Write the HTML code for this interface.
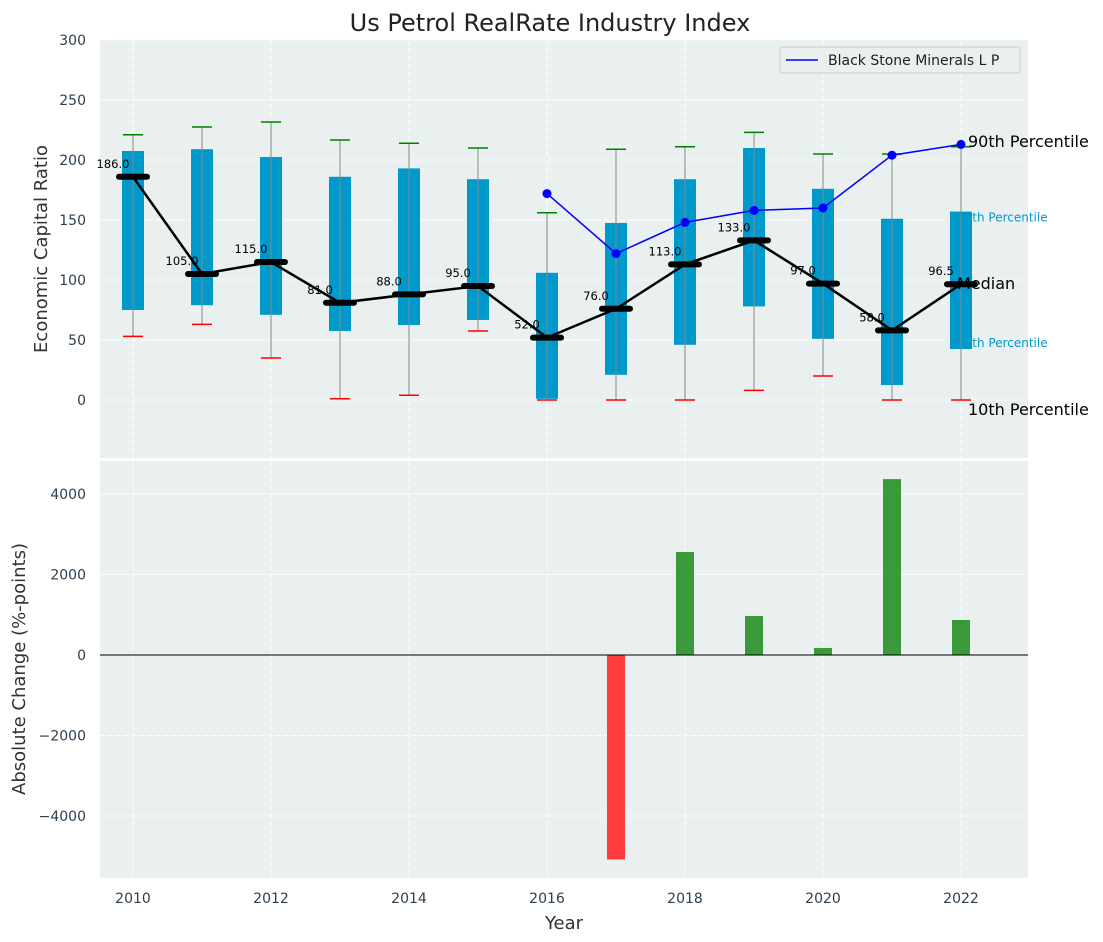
<!DOCTYPE html>
<html><head><meta charset="utf-8"><style>
body{margin:0;background:#fff;}
svg{display:block;font-family:"DejaVu Sans","Liberation Sans",sans-serif;}
</style></head><body>
<svg id="chart" width="1103" height="942" viewBox="0 0 1103 942" xmlns="http://www.w3.org/2000/svg">
<text x="550" y="31" text-anchor="middle" font-size="24" fill="#222">Us Petrol RealRate Industry Index</text>
<rect x="100" y="40" width="928" height="418" fill="#eaeff0"/>
<rect x="100" y="461" width="928" height="417" fill="#eaeff0"/>
<g id="topG"></g><g id="botG"></g>
<text transform="translate(47,249) rotate(-90)" text-anchor="middle" font-size="18" fill="#333">Economic Capital Ratio</text>
<text transform="translate(25,669) rotate(-90)" text-anchor="middle" font-size="18" fill="#333">Absolute Change (%-points)</text>
<text x="564" y="929" text-anchor="middle" font-size="18" fill="#333">Year</text>
<g>
<rect x="780" y="47" width="240" height="26" rx="3" fill="#eaeff0" stroke="#ccc"/>
<line x1="786" y1="60" x2="818" y2="60" stroke="blue" stroke-width="1.5"/>
<text x="828" y="65" font-size="14" fill="#222">Black Stone Minerals L P</text>
</g>
</svg>
<script>
const years=[2010,2011,2012,2013,2014,2015,2016,2017,2018,2019,2020,2021,2022];
const boxLow=[75,79,71,57.5,62.5,66.7,1,21,46,78,51,12.5,42.5];
const boxHigh=[207.5,209,202.5,186,193,184,106,147.5,184,210,176,151,157];
const whiskLow=[53,63,35,1,4,57.5,0,0,0,8,20,0,0];
const whiskHigh=[221,227.5,231.7,216.7,214,210,156,209,211,223,205,205,211];
const medians=[186,105,115,81,88,95,52,76,113,133,97,58,96.5];
const lineYears=[2016,2017,2018,2019,2020,2021,2022];
const lineVals=[172,122,148,158,160,204,213];
const barYears=[2017,2018,2019,2020,2021,2022];
const barVals=[-5080,2560,970,175,4370,870];
const yTicksTop=[0,50,100,150,200,250,300];
const yTicksBot=[-4000,-2000,0,2000,4000];
const xTicks=[2010,2012,2014,2016,2018,2020,2022];

const NS="http://www.w3.org/2000/svg";
const X=v=>133+(v-2010)*69;
const YT=v=>400-v*1.2;
const YB=v=>655-v*0.04025;
function mk(parent,tag,a){const e=document.createElementNS(NS,tag);for(const k in a)e.setAttribute(k,a[k]);parent.appendChild(e);return e;}
const topG=document.getElementById('topG'),botG=document.getElementById('botG');
const chartSvg=document.getElementById('chart');
xTicks.forEach(t=>{
 let g=mk(topG,'line',{x1:X(t),x2:X(t),y1:40,y2:458,stroke:'#fff','stroke-dasharray':'5,3'});
 
 
 let g2=mk(botG,'line',{x1:X(t),x2:X(t),y1:461,y2:878,stroke:'#fff','stroke-dasharray':'5,3'});
 
 
 let tx=mk(chartSvg,'text',{x:X(t),y:903,'text-anchor':'middle','font-size':14,fill:'#2c3e50'});
 tx.textContent=t;
 
 
});
yTicksTop.forEach(t=>{
 let g=mk(topG,'line',{x1:100,x2:1028,y1:YT(t),y2:YT(t),stroke:'#fff','stroke-dasharray':'5,3'});
 
 
 let tx=mk(topG,'text',{x:86,y:YT(t)+5,'text-anchor':'end','font-size':14,fill:'#2c3e50'});
 tx.textContent=t;
 
 
});
yTicksBot.forEach(t=>{
 let g=mk(botG,'line',{x1:100,x2:1028,y1:YB(t),y2:YB(t),stroke:'#fff','stroke-dasharray':'5,3'});
 
 
 let tx=mk(botG,'text',{x:86,y:YB(t)+5,'text-anchor':'end','font-size':14,fill:'#2c3e50'});
 tx.textContent=(t<0?'\u2212'+(-t):t);
 
 
});
const lastX=X(years[years.length-1]);
[[boxHigh,'75th Percentile',10],[boxLow,'25th Percentile',-2]].forEach(([arr,s,dy])=>{
 let t=mk(topG,'text',{x:lastX-4,y:YT(arr[arr.length-1])+dy,'font-size':12,fill:'#0099cc'});
 t.textContent=s;
 
 
});
years.forEach((y,i)=>{
 const x=X(y);
 let b=mk(topG,'rect',{x:x-11,y:YT(boxHigh[i]),width:22,height:YT(boxLow[i])-YT(boxHigh[i]),fill:'#0099cc'});
 
 
 let w=mk(topG,'line',{x1:x,x2:x,y1:YT(whiskHigh[i]),y2:YT(whiskLow[i]),stroke:'#888','stroke-width':1});
 
 
 let c1=mk(topG,'line',{x1:x-10,x2:x+10,y1:YT(whiskHigh[i]),y2:YT(whiskHigh[i]),stroke:'green','stroke-width':1.5});
 
 
 let c2=mk(topG,'line',{x1:x-10,x2:x+10,y1:YT(whiskLow[i]),y2:YT(whiskLow[i]),stroke:'red','stroke-width':1.5});
 
 
});
let mp=mk(topG,'polyline',{points:years.map((y,i)=>X(y)+','+YT(medians[i])).join(' '),fill:'none',stroke:'#000','stroke-width':2.5});


years.forEach((y,i)=>{
 const x=X(y);
 let m=mk(topG,'line',{x1:x-14,x2:x+14,y1:YT(medians[i]),y2:YT(medians[i]),stroke:'#000','stroke-width':6,'stroke-linecap':'round'});
 
 
 let t=mk(topG,'text',{x:x-20,y:YT(medians[i])-9,'text-anchor':'middle','font-size':11.5,fill:'#000'});
 t.textContent=medians[i].toFixed(1);
 
 
});
let bl=mk(topG,'polyline',{points:lineYears.map((y,i)=>X(y)+','+YT(lineVals[i])).join(' '),fill:'none',stroke:'blue','stroke-width':1.5});


lineYears.forEach((y,i)=>{
 let c=mk(topG,'circle',{cx:X(y),cy:YT(lineVals[i]),r:4.5,fill:'blue'});
 
 
});
[[whiskHigh,'90th Percentile',7,0],[medians,'Median',-4,5],[whiskLow,'10th Percentile',7,15]].forEach(([arr,s,dx,dy])=>{
 let v=arr[arr.length-1];
 let t=mk(topG,'text',{x:lastX+dx,y:YT(v)+dy,'font-size':16,fill:'#000'});
 t.textContent=s;
 
 
});
barYears.forEach((y,i)=>{
 const v=barVals[i],x=X(y);
 let r=mk(botG,'rect',{x:x-9,y:Math.min(YB(v),YB(0)),width:18,height:Math.abs(YB(v)-YB(0)),fill:v>=0?'#3a9a3a':'#ff3b3b'});
 
 
});
let z=mk(botG,'line',{x1:100,x2:1028,y1:YB(0),y2:YB(0),stroke:'#000','stroke-width':1});


</script>
</body></html>
